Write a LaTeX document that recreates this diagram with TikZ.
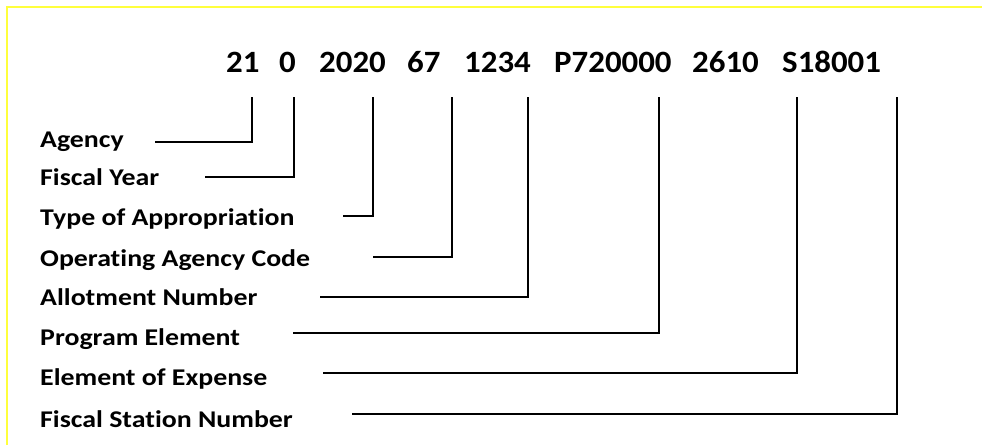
\documentclass[tikz,border=0pt]{standalone}
\usepackage{fontspec}
\setmainfont{Carlito}
\newfontfamily\codefont[FakeStretch=1.06, Ligatures=NoCommon]{Carlito}
\newfontfamily\fieldfont[FakeStretch=1.16, Ligatures=NoCommon]{Carlito}
\usepackage{tikz}
\usetikzlibrary{positioning}
\definecolor{framey}{RGB}{255,255,60}
\tikzstyle{code} = [anchor=base west, inner sep=0pt, font=\codefont\fontsize{31}{31}\selectfont\bfseries]
\tikzstyle{field} = [anchor=base west, inner sep=0pt, font=\fieldfont\fontsize{24}{24}\selectfont\bfseries]
\tikzstyle{line} = [draw, line width=2.6pt]

\begin{document}
\begin{tikzpicture}[x=1pt, y=-1pt]
			\useasboundingbox (0,0) rectangle (982,445);
			\draw [framey, line width=1.2pt] (7,445) -- (7,7) -- (982,7);

			\node [code] (agy) at (226, 72) {21};
			\node [code] (fy) at (279, 72) {0};
			\node [code] (toa) at (319, 72) {2020};
			\node [code] (oac) at (407, 72) {67};
			\node [code] (an) at (464, 72) {1234};
			\node [code] (pe) at (554, 72) {P720000};
			\node [code] (eoe) at (692, 72) {2610};
			\node [code] (fsn) at (782, 72) {S18001};

			\node [field] (l1) at (40, 147) {Agency};
			\node [field] (l2) at (40, 185) {Fiscal Year};
			\node [field] (l3) at (40, 225) {Type of Appropriation};
			\node [field] (l4) at (40, 266) {Operating Agency Code};
			\node [field] (l5) at (40, 305) {Allotment Number};
			\node [field] (l6) at (40, 345) {Program Element};
			\node [field] (l7) at (40, 385) {Element of Expense};
			\node [field] (l8) at (40, 427) {Fiscal Station Number};

			% line tops under the code, and free ends beside the labels
			\coordinate (t1) at (252, 97);  \coordinate (e1) at (155, 142);
			\coordinate (t2) at (294, 97);  \coordinate (e2) at (205, 177);
			\coordinate (t3) at (373, 97);  \coordinate (e3) at (343, 216);
			\coordinate (t4) at (452, 97);  \coordinate (e4) at (373, 257);
			\coordinate (t5) at (528, 97);  \coordinate (e5) at (320, 297);
			\coordinate (t6) at (659, 97);  \coordinate (e6) at (293, 333);
			\coordinate (t7) at (797, 97);  \coordinate (e7) at (323, 373);
			\coordinate (t8) at (897, 97);  \coordinate (e8) at (352, 414);

			\path [line] (t1) |- (e1);
			\path [line] (t2) |- (e2);
			\path [line] (t3) |- (e3);
			\path [line] (t4) |- (e4);
			\path [line] (t5) |- (e5);
			\path [line] (t6) |- (e6);
			\path [line] (t7) |- (e7);
			\path [line] (t8) |- (e8);
		\end{tikzpicture}
\end{document}
